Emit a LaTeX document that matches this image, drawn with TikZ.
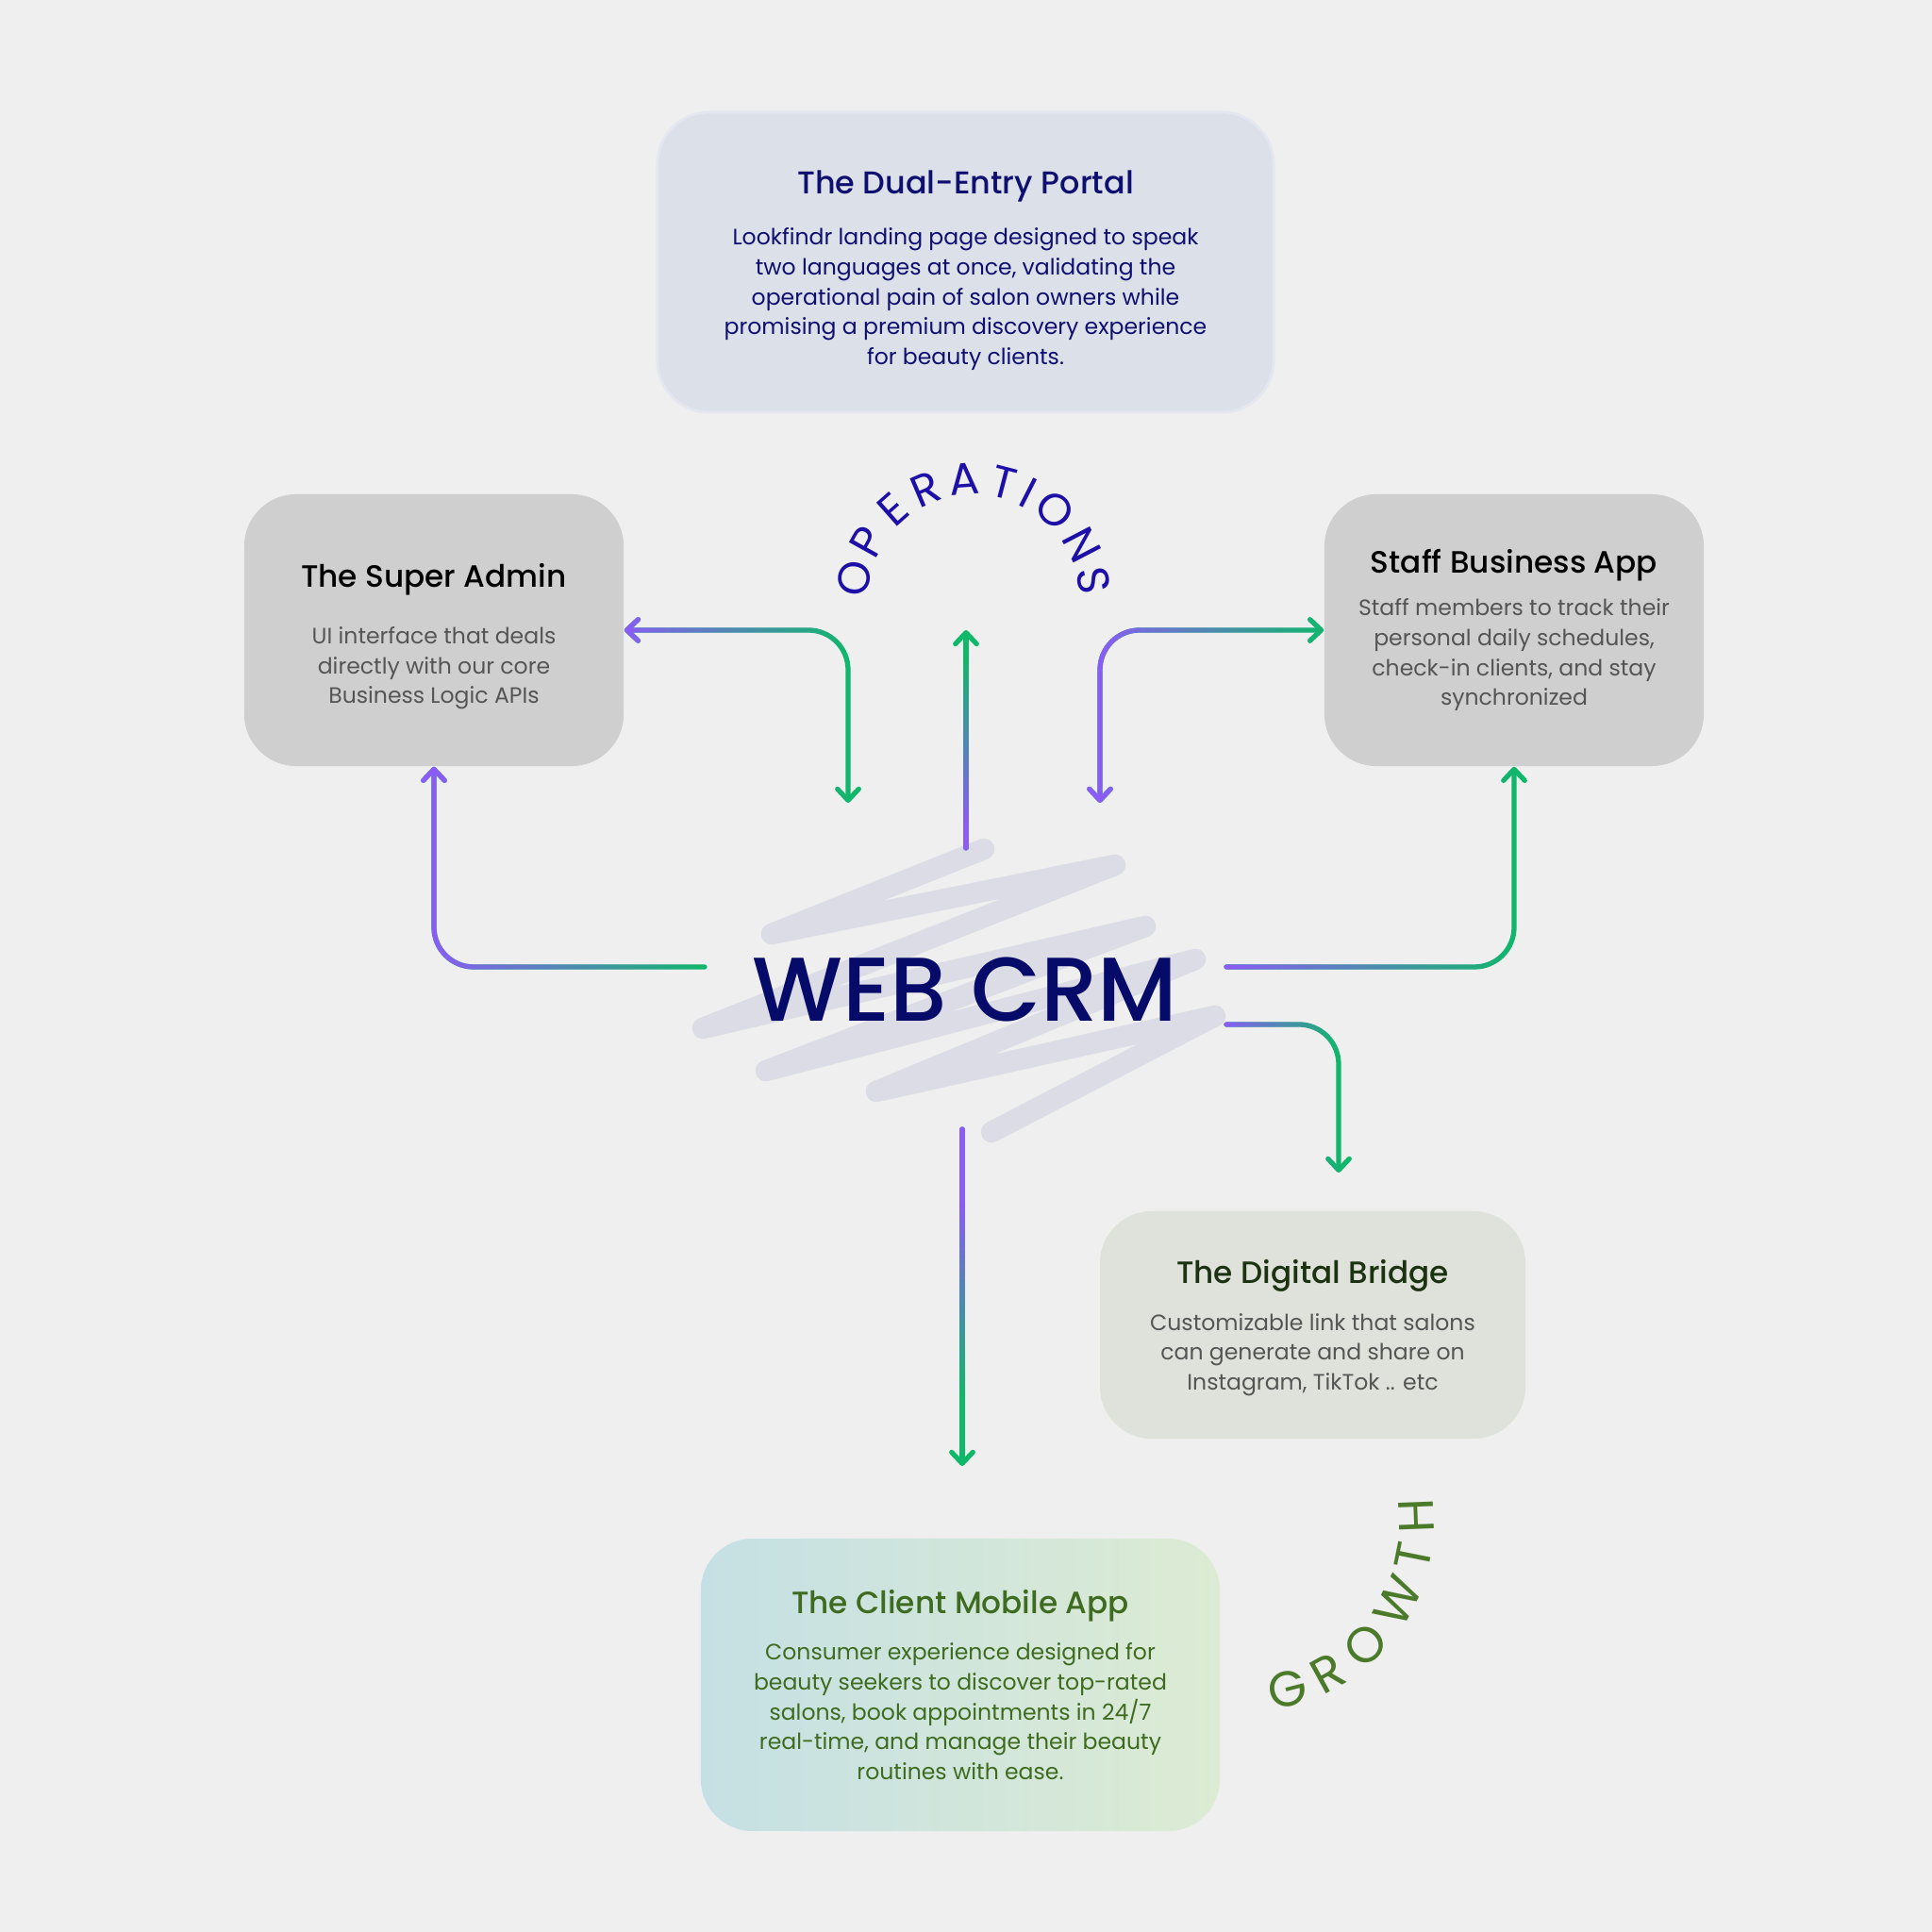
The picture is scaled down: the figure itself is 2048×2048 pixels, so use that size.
\documentclass[tikz,border=0pt]{standalone}
\usepackage{fontspec}
\setmainfont{Poppins}
\newfontfamily\headfont{Poppins}[UprightFont=* Medium]
\usetikzlibrary{positioning, arrows.meta, fadings}

\definecolor{bgcol}{HTML}{EFEFEF}
\definecolor{portalfill}{HTML}{DCE1E9}
\definecolor{portaledge}{HTML}{E4E7EF}
\definecolor{navy}{HTML}{0F0F70}
\definecolor{cardgray}{HTML}{CFCFCF}
\definecolor{bodygray}{HTML}{555555}
\definecolor{bridgefill}{HTML}{DFE2DB}
\definecolor{bridgetitle}{HTML}{1C3311}
\definecolor{clientL}{HTML}{C5E0E4}
\definecolor{clientR}{HTML}{DCEBD3}
\definecolor{clientgreen}{HTML}{3E6B1F}
\definecolor{crmnavy}{HTML}{060A68}
\definecolor{scrib}{HTML}{DCDCE6}
\definecolor{purp}{HTML}{8B5CF6}
\definecolor{grn}{HTML}{10B86A}
\definecolor{opblue}{HTML}{1D10A8}
\definecolor{growgreen}{HTML}{4C7A2B}

\tikzfading[name=fadeR, left color=transparent!0, right color=transparent!100]
\tikzfading[name=fadeU, bottom color=transparent!0, top color=transparent!100]
\tikzfading[name=fadeD, top color=transparent!0, bottom color=transparent!100]

\tikzset{
  card/.style={rounded corners=0.55cm, align=center, inner sep=0pt,
               font=\fontsize{6.7}{9.0}\selectfont},
  flow/.style={line width=1.5pt, rounded corners=0.42cm, line cap=round, line join=round},
  fadeflow/.style={postaction={draw=purp, flow, path fading=#1}},
  opletter/.style={font=\fontsize{13.5}{13.5}\selectfont, text=opblue, inner sep=0pt},
  growletter/.style={font=\fontsize{15}{15}\selectfont, text=growgreen, inner sep=0pt},
}
\newcommand{\cardtitle}[1]{{\headfont\fontsize{9.3}{12}\selectfont #1}}

\begin{document}
\begin{tikzpicture}[x=0.01cm, y=0.01cm, >={Straight Barb[length=3.4pt, width=6.4pt, round]}]
  \path[use as bounding box, fill=bgcol] (0,0) rectangle (2048,2048);

  % cards
  \node[card, fill=portalfill, draw=portaledge, line width=0.8pt, text=navy,
        minimum width=6.53cm, minimum height=3.18cm] (portal) at (1023.5,1770)
       {\rule{0pt}{12pt}\cardtitle{\fontsize{9.5}{12}\selectfont The Dual-Entry Portal}\\[6.5pt]
        Lookfindr landing page designed to speak\\two languages at once, validating the\\
        operational pain of salon owners while\\promising a premium discovery experience\\
        for beauty clients.};
  \node[card, fill=cardgray, text=bodygray, minimum width=4.02cm, minimum height=2.88cm]
       (admin) at (460,1380)
       {\rule{0pt}{11pt}\textcolor{black}{\cardtitle{The Super Admin}}\\[8pt]
        UI interface that deals\\directly with our core\\Business Logic APIs};
  \node[card, fill=cardgray, text=bodygray, minimum width=4.02cm, minimum height=2.88cm]
       (staff) at (1605,1380)
       {\textcolor{black}{\cardtitle{Staff Business App}}\\[4pt]
        Staff members to track their\\personal daily schedules,\\check-in clients, and stay\\
        synchronized};
  \node[card, fill=bridgefill, text=bodygray, minimum width=4.51cm, minimum height=2.41cm]
       (bridge) at (1391.5,643.5)
       {\rule{0pt}{9pt}\textcolor{bridgetitle}{\cardtitle{The Digital Bridge}}\\[5pt]
        Customizable link that salons\\can generate and share on\\Instagram, TikTok .. etc};
  \node[card, left color=clientL, right color=clientR, text=clientgreen,
        minimum width=5.50cm, minimum height=3.10cm] (client) at (1018,262)
       {\cardtitle{The Client Mobile App}\\[5pt]
        Consumer experience designed for\\beauty seekers to discover top-rated\\
        salons, book appointments in 24/7\\real-time, and manage their beauty\\
        routines with ease.};

  % scribble behind the hub
  \draw[scrib, line width=6.4pt, line cap=round, line join=round]
       (1043,1148) -- (818,1058) -- (1182,1131) -- (745,958) -- (1214,1066)
       -- (812,913) -- (1267,1031) -- (929,891) -- (1288,971) -- (1051,848);
  \node[font=\headfont\fontsize{27.3}{30}\selectfont, text=crmnavy, inner sep=0pt]
       (crm) at (1023,999) {WEB CRM};

  % connector ends
  \coordinate (crmL) at (747,1023);
  \coordinate (crmR) at (1300,1023);
  \coordinate (crmR2) at (1300,962);
  \coordinate (crmT) at (1024,1149);
  \coordinate (crmB) at (1020,851);
  \coordinate (opL) at (899,1197);
  \coordinate (opM) at (1024,1380);
  \coordinate (opR) at (1166,1197);
  \coordinate (brIn) at (1419,805);
  \coordinate (clIn) at (1020,494);

  % connectors
  \draw[flow, grn, <->, fadeflow=fadeR] (opL) |- (admin.east);
  \draw[flow, grn, ->, postaction={draw=purp, flow, path fading=fadeU, fit fading=false,
        fading transform={shift={(1024,1264)}}}] (crmT) -- (opM);
  \draw[flow, grn, <->, fadeflow=fadeR] (opR) |- (staff.west);
  \draw[flow, grn, ->, fadeflow=fadeR] (crmL) -| (admin.south);
  \draw[flow, grn, ->, fadeflow=fadeR] (crmR) -| (staff.south);
  \draw[flow, grn, ->, fadeflow=fadeR] (crmR2) -| (brIn);
  \draw[flow, grn, ->, postaction={draw=purp, flow, path fading=fadeD, fit fading=false,
        fading transform={shift={(1020,672)}, yscale=1.15}}] (crmB) -- (clIn);

  % curved labels
  \coordinate (opc) at (1032,1411);
  \foreach \ch/\a [count=\i] in {O/169.3,P/150.9,E/131.5,R/113.1,A/94.4,
                                 T/75.4,I/63,O/48,N/27.5,S/9.8}
    \node[opletter, rotate=\a-90] (op\i) at ([shift={(\a:129)}]opc) {\ch};
  \coordinate (grc) at (1320,434);
  \foreach \ch/\a [count=\i] in {G/-75.7,R/-61.1,O/-45.7,W/-27.1,T/-11.3,H/2.2}
    \node[growletter, rotate=\a+90] (gr\i) at ([shift={(\a:182)}]grc) {\ch};
\end{tikzpicture}
\end{document}
